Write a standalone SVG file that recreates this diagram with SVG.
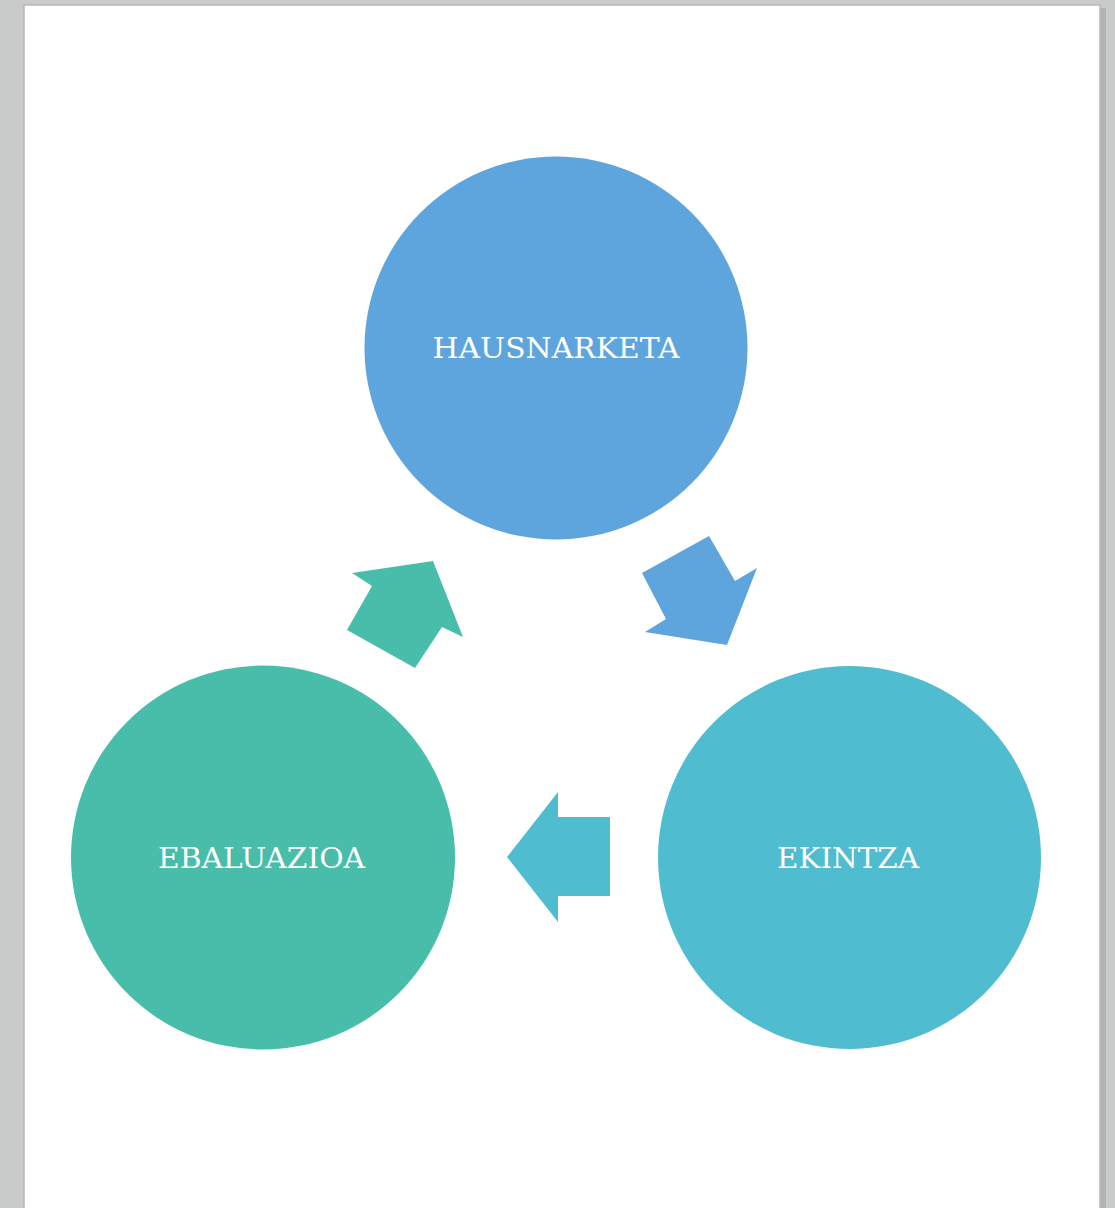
<svg xmlns="http://www.w3.org/2000/svg" width="1115" height="1208" viewBox="0 0 1115 1208">
<style>
.lbl{font-family:"DejaVu Serif","Liberation Serif",serif;font-size:28px;fill:#ffffff;text-anchor:middle}
</style>
<rect x="0" y="0" width="1115" height="1208" fill="#c9cbca"/>
<rect x="1099" y="8" width="7" height="1200" fill="#b2b4b3"/>
<rect x="24" y="5" width="1076" height="1210" fill="#ffffff" stroke="#b8b8b8" stroke-width="1.5"/>
<g id="connectors">
<polygon points="352,573 433,561 463,637 442,627 415,668 347,630 372,586" fill="#48bda9"/>
<polygon points="642,573 709,536 735,581 757,568 727,645 645,632 666,619" fill="#5fa5dd"/>
<polygon points="507,857 558,792 558,817 610,817 610,896 558,896 558,922" fill="#50bcd0"/>
</g>
<g id="hausnarketa">
<circle cx="556" cy="348" r="191.5" fill="#5fa5dd"/>
<text class="lbl" x="556" y="358" textLength="247" lengthAdjust="spacingAndGlyphs">HAUSNARKETA</text>
</g>
<g id="ebaluazioa">
<circle cx="263" cy="857.5" r="192" fill="#48bda9"/>
<text class="lbl" x="261.5" y="868" textLength="207" lengthAdjust="spacingAndGlyphs">EBALUAZIOA</text>
</g>
<g id="ekintza">
<circle cx="849.5" cy="857.5" r="191.5" fill="#50bcd0"/>
<text class="lbl" x="848" y="868" textLength="142" lengthAdjust="spacingAndGlyphs">EKINTZA</text>
</g>
</svg>
